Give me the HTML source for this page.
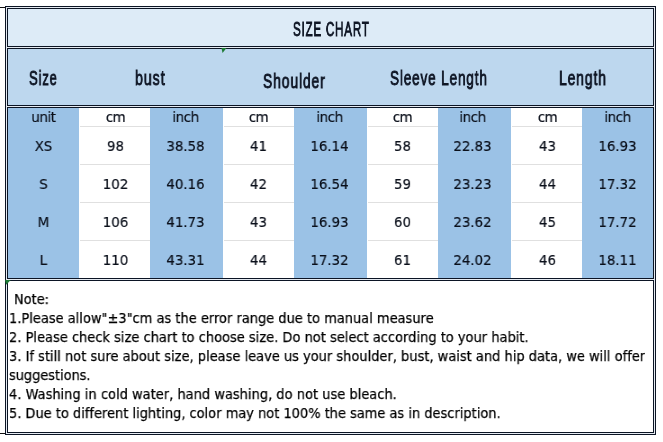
<!DOCTYPE html>
<html><head><meta charset="utf-8"><title>Size Chart</title>
<style>
*{margin:0;padding:0;box-sizing:border-box}
html,body{width:663px;height:442px;overflow:hidden;background:#fff}
body{position:relative;font-family:"Liberation Sans",sans-serif;color:#101828}
.a{position:absolute}
.hd,.t,.n{will-change:transform}
.box{position:absolute;border:1px solid #0b1424}
.hd{font-family:"Liberation Sans",sans-serif;font-size:20px;line-height:20px;letter-spacing:1.3px;white-space:nowrap;color:#0f1625;-webkit-text-stroke:0.9px #0f1625;transform-origin:0 0}
.c{position:absolute;top:108px;height:170px}
.blue{background:#9bc2e6}
.t{position:absolute;font-family:"DejaVu Sans",sans-serif;transform:scaleX(0.9);transform-origin:50% 0;font-size:14.9px;line-height:18px;white-space:nowrap;color:#0a0f1a;-webkit-text-stroke:0.2px #0a0f1a;text-align:center}
.g{position:absolute;height:1px;background:#e0e0e0}
.n{position:absolute;left:9px;font-family:"DejaVu Sans",sans-serif;transform:scaleX(0.9);transform-origin:0 0;font-size:14.4px;line-height:19px;white-space:nowrap;color:#000;-webkit-text-stroke:0.25px #000}
</style></head><body>
<!-- edge stubs -->
<div class="a" style="left:0;top:7px;width:5px;height:1px;background:#111"></div>
<div class="a" style="left:0;top:433px;width:5px;height:1px;background:#111"></div>
<!-- outer table border -->
<div class="box" style="left:5px;top:6px;width:651px;height:429px;background:#e6ebf2"></div>
<!-- header 1 -->
<div class="box" style="left:7px;top:8px;width:647px;height:39px;background:#ddebf7"></div>
<!-- header 2 -->
<div class="box" style="left:7px;top:48px;width:647px;height:58px;background:#bdd7ee"></div>
<!-- body -->
<div class="box" style="left:7px;top:107px;width:647px;height:172px;background:#fff"></div>
<div class="c blue" style="left:8px;width:71px"></div>
<div class="c blue" style="left:150px;width:73px"></div>
<div class="c blue" style="left:294px;width:73px"></div>
<div class="c blue" style="left:438px;width:73px"></div>
<div class="c blue" style="left:582px;width:71px"></div>
<!-- gridlines in white columns -->
<div class="g" style="left:80px;width:70px;top:126px"></div>
<div class="g" style="left:80px;width:70px;top:164px"></div>
<div class="g" style="left:80px;width:70px;top:202px"></div>
<div class="g" style="left:80px;width:70px;top:240px"></div>
<div class="g" style="left:224px;width:70px;top:126px"></div>
<div class="g" style="left:224px;width:70px;top:164px"></div>
<div class="g" style="left:224px;width:70px;top:202px"></div>
<div class="g" style="left:224px;width:70px;top:240px"></div>
<div class="g" style="left:368px;width:70px;top:126px"></div>
<div class="g" style="left:368px;width:70px;top:164px"></div>
<div class="g" style="left:368px;width:70px;top:202px"></div>
<div class="g" style="left:368px;width:70px;top:240px"></div>
<div class="g" style="left:512px;width:70px;top:126px"></div>
<div class="g" style="left:512px;width:70px;top:164px"></div>
<div class="g" style="left:512px;width:70px;top:202px"></div>
<div class="g" style="left:512px;width:70px;top:240px"></div>
<!-- notes -->
<div class="box" style="left:7px;top:280px;width:647px;height:153px;background:#fff"></div>

<!-- excel indicators -->
<svg class="a" style="left:0;top:0" width="663" height="442" viewBox="0 0 663 442"><polygon points="221.5,48 226.5,48 222.5,53" fill="#1d7a35"/><polygon points="5,280 10.7,280 6.2,284.8" fill="#1d7a35"/></svg>
<!-- header texts -->
<div class="a hd" id="h0" style="left:292.82px;top:19px;transform:scaleX(0.5822)">SIZE CHART</div>
<div class="a hd" id="h1" style="left:29.15px;top:68px;transform:scaleX(0.6488)">Size</div>
<div class="a hd" id="h2" style="left:135.19px;top:68px;transform:scaleX(0.7098)">bust</div>
<div class="a hd" id="h3" style="left:263.01px;top:71px;transform:scaleX(0.6932)">Shoulder</div>
<div class="a hd" id="h4" style="left:390.22px;top:68px;transform:scaleX(0.6754)">Sleeve Length</div>
<div class="a hd" id="h5" style="left:559.41px;top:68px;transform:scaleX(0.6939)">Length</div>

<!-- body texts: rows -->
<div id="rows">
<div class="t" style="left:7.5px;width:71px;top:108.0px;letter-spacing:-0.5px">unit</div>
<div class="t" style="left:79.7px;width:71px;top:108.0px;letter-spacing:-0.5px">cm</div>
<div class="t" style="left:148.5px;width:73px;top:108.0px;letter-spacing:-0.5px">inch</div>
<div class="t" style="left:223.4px;width:71px;top:108.0px;letter-spacing:-0.5px">cm</div>
<div class="t" style="left:292.5px;width:73px;top:108.0px;letter-spacing:-0.5px">inch</div>
<div class="t" style="left:367.4px;width:71px;top:108.0px;letter-spacing:-0.5px">cm</div>
<div class="t" style="left:436px;width:73px;top:108.0px;letter-spacing:-0.5px">inch</div>
<div class="t" style="left:511.5px;width:71px;top:108.0px;letter-spacing:-0.5px">cm</div>
<div class="t" style="left:581.6px;width:71px;top:108.0px;letter-spacing:-0.5px">inch</div>
<div class="t" style="left:7.5px;width:71px;top:136.5px">XS</div>
<div class="t" style="left:79.7px;width:71px;top:136.5px">98</div>
<div class="t" style="left:148.5px;width:73px;top:136.5px">38.58</div>
<div class="t" style="left:223.4px;width:71px;top:136.5px">41</div>
<div class="t" style="left:292.5px;width:73px;top:136.5px">16.14</div>
<div class="t" style="left:367.4px;width:71px;top:136.5px">58</div>
<div class="t" style="left:436px;width:73px;top:136.5px">22.83</div>
<div class="t" style="left:511.5px;width:71px;top:136.5px">43</div>
<div class="t" style="left:581.6px;width:71px;top:136.5px">16.93</div>
<div class="t" style="left:7.5px;width:71px;top:174.5px">S</div>
<div class="t" style="left:79.7px;width:71px;top:174.5px">102</div>
<div class="t" style="left:148.5px;width:73px;top:174.5px">40.16</div>
<div class="t" style="left:223.4px;width:71px;top:174.5px">42</div>
<div class="t" style="left:292.5px;width:73px;top:174.5px">16.54</div>
<div class="t" style="left:367.4px;width:71px;top:174.5px">59</div>
<div class="t" style="left:436px;width:73px;top:174.5px">23.23</div>
<div class="t" style="left:511.5px;width:71px;top:174.5px">44</div>
<div class="t" style="left:581.6px;width:71px;top:174.5px">17.32</div>
<div class="t" style="left:7.5px;width:71px;top:212.5px">M</div>
<div class="t" style="left:79.7px;width:71px;top:212.5px">106</div>
<div class="t" style="left:148.5px;width:73px;top:212.5px">41.73</div>
<div class="t" style="left:223.4px;width:71px;top:212.5px">43</div>
<div class="t" style="left:292.5px;width:73px;top:212.5px">16.93</div>
<div class="t" style="left:367.4px;width:71px;top:212.5px">60</div>
<div class="t" style="left:436px;width:73px;top:212.5px">23.62</div>
<div class="t" style="left:511.5px;width:71px;top:212.5px">45</div>
<div class="t" style="left:581.6px;width:71px;top:212.5px">17.72</div>
<div class="t" style="left:7.5px;width:71px;top:250.5px">L</div>
<div class="t" style="left:79.7px;width:71px;top:250.5px">110</div>
<div class="t" style="left:148.5px;width:73px;top:250.5px">43.31</div>
<div class="t" style="left:223.4px;width:71px;top:250.5px">44</div>
<div class="t" style="left:292.5px;width:73px;top:250.5px">17.32</div>
<div class="t" style="left:367.4px;width:71px;top:250.5px">61</div>
<div class="t" style="left:436px;width:73px;top:250.5px">24.02</div>
<div class="t" style="left:511.5px;width:71px;top:250.5px">46</div>
<div class="t" style="left:581.6px;width:71px;top:250.5px">18.11</div>
</div>

<!-- notes -->
<div class="n" style="top:290px;left:14px">Note:</div>
<div class="n" style="top:309px;letter-spacing:0.026px">1.Please allow"±3"cm as the error range due to manual measure</div>
<div class="n" style="top:328px;letter-spacing:0.034px">2. Please check size chart to choose size. Do not select according to your habit.</div>
<div class="n" style="top:347px;letter-spacing:0.027px">3. If still not sure about size, please leave us your shoulder, bust, waist and hip data, we will offer</div>
<div class="n" style="top:366px;letter-spacing:-0.03px">suggestions.</div>
<div class="n" style="top:385px;letter-spacing:0.04px">4. Washing in cold water, hand washing, do not use bleach.</div>
<div class="n" style="top:404px;letter-spacing:0.015px">5. Due to different lighting, color may not 100% the same as in description.</div>
</body></html>
